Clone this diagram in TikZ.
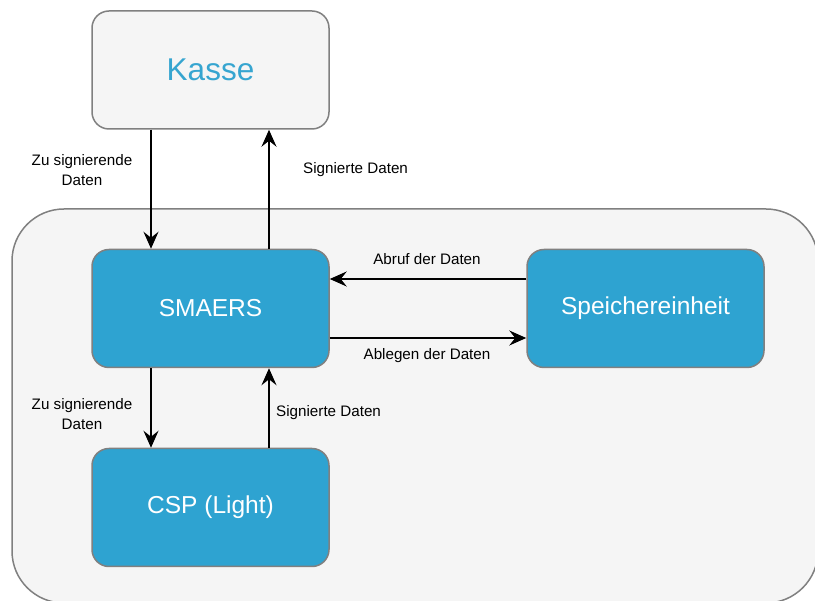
\documentclass[tikz,border=0pt]{standalone}
\usepackage{fontspec}
\setmainfont{Liberation Sans}
\usetikzlibrary{arrows.meta}
\definecolor{boxblue}{HTML}{2EA3D1}
\definecolor{boxgray}{HTML}{F5F5F5}
\definecolor{edgegray}{HTML}{808080}
\definecolor{titleblue}{HTML}{36A5D0}
\tikzset{
  unit/.style={rectangle, rounded corners=17pt, draw=edgegray, line width=1.5pt,
    minimum width=237pt, minimum height=118pt, inner sep=0pt},
  bluebox/.style={unit, fill=boxblue, text=white, font=\fontsize{24.5}{29}\selectfont},
  graybox/.style={unit, fill=boxgray, text=titleblue, font=\fontsize{31.5}{37}\selectfont},
  flow/.style={line width=1.8pt, -{Stealth[length=17pt, width=15pt, inset=6pt]}},
  lbl/.style={font=\fontsize{15.2}{19.5}\selectfont, align=center, inner sep=0pt}
}
\begin{document}
\begin{tikzpicture}[x=1pt, y=-1pt]
  \useasboundingbox (0,0) rectangle (815,601);
  \begin{scope}
    \clip (0,0) rectangle (815,601);
    % enclosing system frame
    \draw[draw=edgegray, fill=boxgray, line width=1.5pt, rounded corners=52pt]
      (12,209) rectangle (818,603);
  \end{scope}

  \node[graybox] (kasse) at (210.5,70) {Kasse};
  \node[bluebox] (smaers) at (210.5,308.5) {SMAERS};
  \node[bluebox] (speicher) at (645.5,308.5) {Speichereinheit};
  \node[bluebox] (csp) at (210.5,507.5) {CSP (Light)};

  % Kasse <-> SMAERS
  \draw[flow] ([xshift=-59.5pt]kasse.south) -- ([xshift=-59.5pt]smaers.north);
  \draw[flow] ([xshift=58.5pt]smaers.north) -- ([xshift=58.5pt]kasse.south);
  \node[lbl] (l1) at (82,170) {Zu signierende\\Daten};
  \node[lbl, anchor=west] (l2) at (303,170) {Signierte Daten};

  % SMAERS <-> Speichereinheit
  \draw[flow] ([yshift=29.5pt]speicher.west) -- ([yshift=29.5pt]smaers.east);
  \draw[flow] ([yshift=-29.5pt]smaers.east) -- ([yshift=-29.5pt]speicher.west);
  \node[lbl] (l3) at (427,259) {Abruf der Daten};
  \node[lbl] (l4) at (427,356) {Ablegen der Daten};

  % SMAERS <-> CSP
  \draw[flow] ([xshift=-59.5pt]smaers.south) -- ([xshift=-59.5pt]csp.north);
  \draw[flow] ([xshift=58.5pt]csp.north) -- ([xshift=58.5pt]smaers.south);
  \node[lbl] (l5) at (82,414) {Zu signierende\\Daten};
  \node[lbl, anchor=west] (l6) at (276,413) {Signierte Daten};
\end{tikzpicture}
\end{document}
